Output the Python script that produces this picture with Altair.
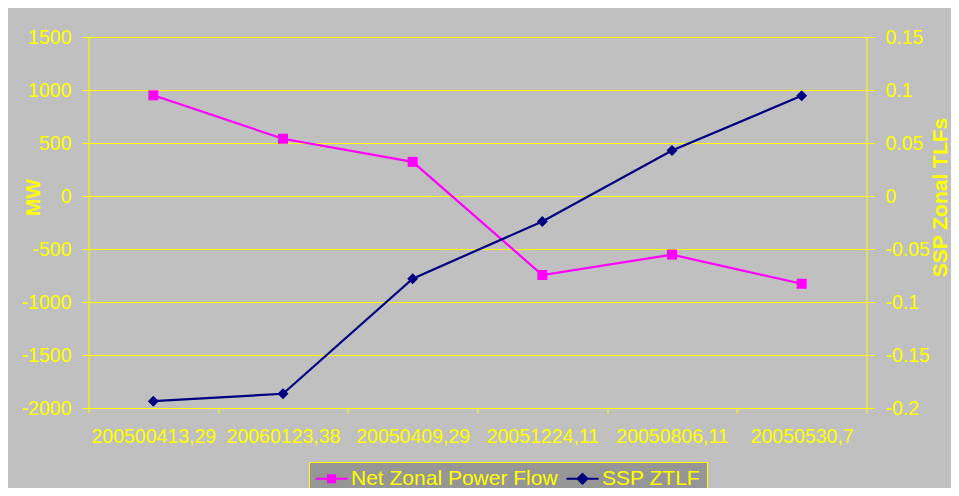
import altair as alt
import pandas as pd

# ---- data ----
categories = ["200500413,29", "20060123,38", "20050409,29", "20051224,11", "20050806,11", "20050530,7"]
net_zonal_power_flow = [950, 540, 322, -745, -553, -828]
ssp_ztlf = [-0.1936, -0.1866, -0.078, -0.024, 0.043, 0.0945]
series_names = ["Net Zonal Power Flow", "SSP ZTLF"]
series_colors = ["#FF00FF", "#000080"]
mw_ticks = [-2000, -1500, -1000, -500, 0, 500, 1000, 1500]
tlf_ticks = [-0.2, -0.15, -0.1, -0.05, 0, 0.05, 0.1, 0.15]

YELLOW = "#FFFF00"
FONT = "Liberation Sans, Arial, sans-serif"

df_mw = pd.DataFrame({"category": categories, "value": net_zonal_power_flow,
                      "series": series_names[0]})
df_tlf = pd.DataFrame({"category": categories, "value": ssp_ztlf,
                       "series": series_names[1]})
df_legend = pd.DataFrame({"category": categories[:2], "series": series_names})

x_enc = alt.X(
    "category:N",
    sort=categories,
    scale=alt.Scale(type="band", paddingInner=0, paddingOuter=0),
    bandPosition=0.5,
    axis=alt.Axis(title=None, labelAngle=0, tickBand="extent", tickSize=5,
                  labelPadding=14, grid=False),
)

y_left = alt.Y(
    "value:Q",
    scale=alt.Scale(domain=[mw_ticks[0], mw_ticks[-1]], nice=False, zero=False),
    axis=alt.Axis(orient="left", values=mw_ticks, labelExpr="toString(datum.value)",
                  title="MW", grid=True, tickSize=7, labelPadding=10.5,
                  titleAngle=270, titleX=-55, titleY=160, titleAlign="center",
                  titleBaseline="middle"),
)
y_right = alt.Y(
    "value:Q",
    scale=alt.Scale(domain=[tlf_ticks[0], tlf_ticks[-1]], nice=False, zero=False),
    axis=alt.Axis(orient="right", values=tlf_ticks, labelExpr="toString(datum.value)",
                  title="SSP Zonal TLFs", grid=False, tickSize=8, labelPadding=10.5,
                  titleAngle=270, titleX=74, titleY=160, titleAlign="center",
                  titleBaseline="middle"),
)

legend_props = dict(
    title=None, orient="none", legendX=220.5, legendY=425, direction="horizontal",
    fillColor="#969696", strokeColor=YELLOW, padding=6,
    labelColor=YELLOW, labelFont=FONT, labelFontSize=21, labelLimit=400,
    symbolSize=64, symbolOffset=6, labelOffset=9, columnPadding=4,
    symbolStrokeWidth=2, symbolOpacity=1,
)
color_scale = alt.Scale(domain=series_names, range=series_colors)
shape_scale = alt.Scale(
    domain=series_names,
    range=["M-4,0H4M-0.9,-0.9H0.9V0.9H-0.9Z",
           "M-4,0H4M0,-1.2L1.25,0L0,1.2L-1.25,0Z"],
)

legend_layer = alt.Chart(df_legend).mark_point(filled=True, opacity=0, strokeWidth=2).encode(
    x=x_enc,
    color=alt.Color("series:N", scale=color_scale, legend=alt.Legend(**legend_props)),
    stroke=alt.Stroke("series:N", scale=color_scale, legend=alt.Legend(**legend_props)),
    shape=alt.Shape("series:N", scale=shape_scale, legend=alt.Legend(**legend_props)),
)

line_mw = alt.Chart(df_mw).mark_line(color=series_colors[0], strokeWidth=2.2).encode(x=x_enc, y=y_left)
pts_mw = alt.Chart(df_mw).mark_point(shape="square", filled=True, size=100, opacity=1,
                                     color=series_colors[0]).encode(x=x_enc, y=y_left)
left = alt.layer(legend_layer, line_mw, pts_mw)

line_tlf = alt.Chart(df_tlf).mark_line(color=series_colors[1], strokeWidth=2.2).encode(x=x_enc, y=y_right)
pts_tlf = alt.Chart(df_tlf).mark_point(shape="diamond", filled=True, size=120, opacity=1,
                                       color=series_colors[1]).encode(x=x_enc, y=y_right)
right = alt.layer(line_tlf, pts_tlf)

chart = (
    alt.layer(left, right)
    .resolve_scale(y="independent")
    .properties(
        width=778, height=371, background="#C0C0C0",
        padding={"left": 80.5, "top": 29, "right": 84.5, "bottom": 80},
        autosize=alt.AutoSizeParams(type="none"),
    )
    .configure_view(strokeWidth=0)
    .configure_axis(
        labelColor=YELLOW, titleColor=YELLOW, domainColor=YELLOW, tickColor=YELLOW,
        gridColor=YELLOW, gridOpacity=1, gridWidth=1, domainWidth=1, tickWidth=1,
        labelFont=FONT, titleFont=FONT, labelFontSize=19.5, titleFontSize=21,
        titleFontWeight="bold",
    )
)

chart.save("out.html", embed_options={"renderer": "svg", "actions": False})
